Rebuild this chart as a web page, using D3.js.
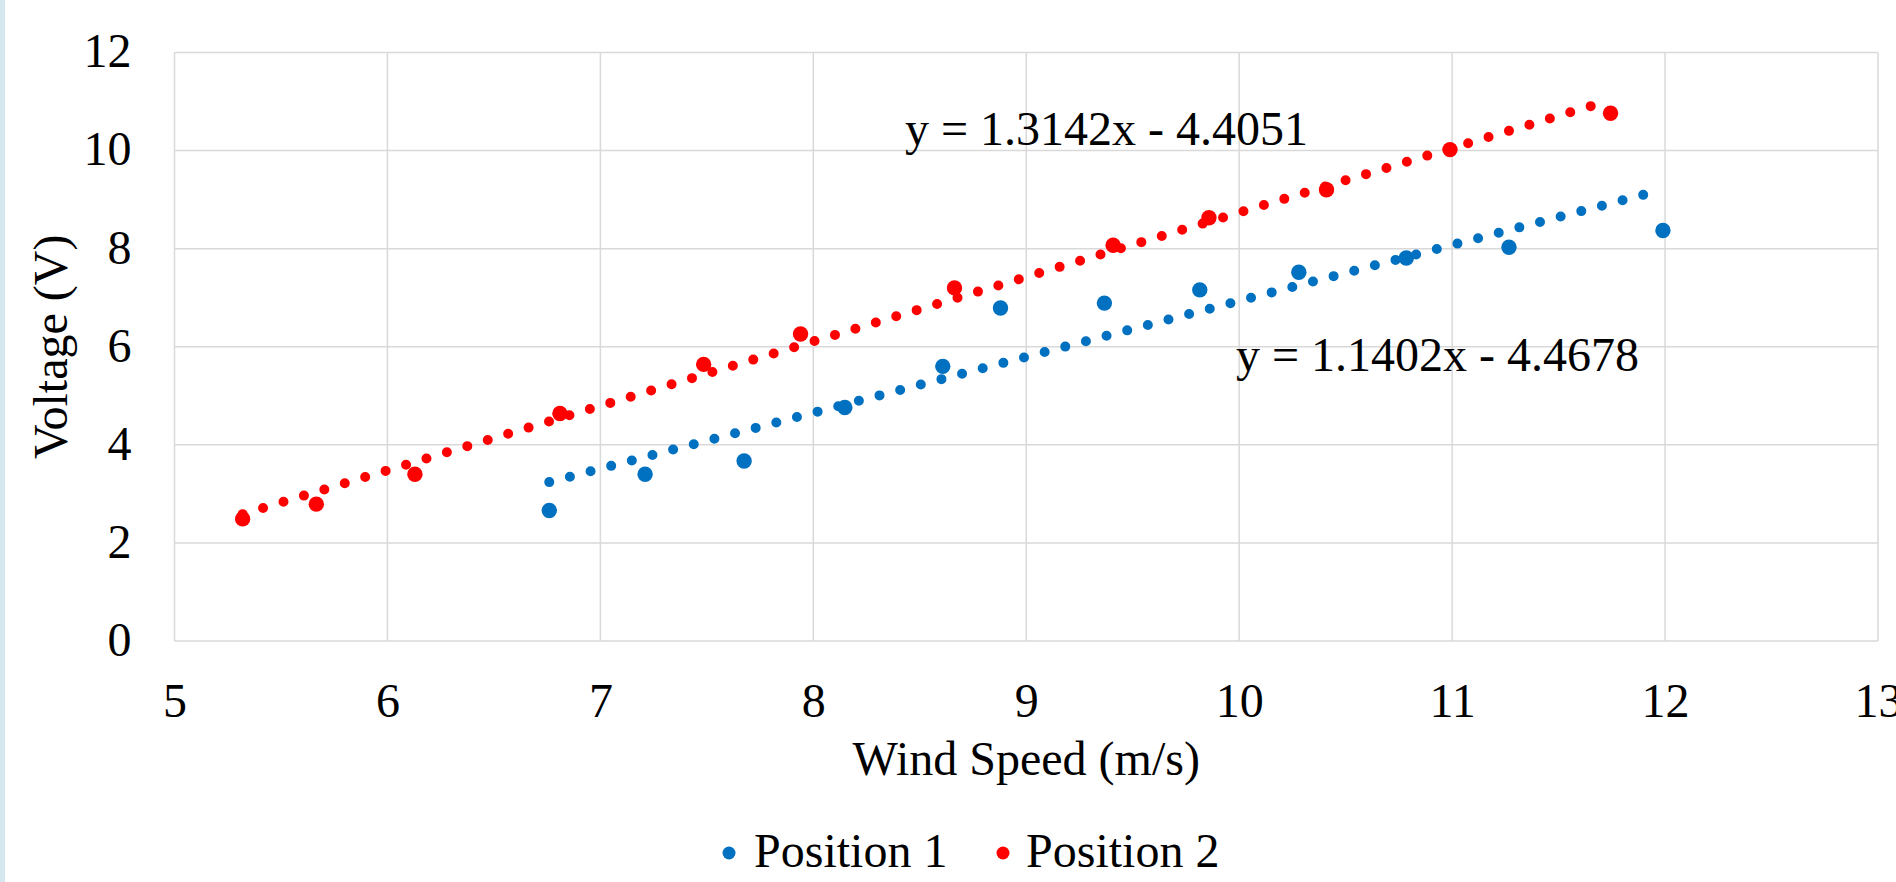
<!DOCTYPE html>
<html>
<head>
<meta charset="utf-8">
<script src="https://cdn.jsdelivr.net/npm/d3@7"></script>
<style>
  html, body { margin: 0; padding: 0; background: #fff; }
  svg { display: block; }
  text { font-family: "Liberation Serif", "Times New Roman", serif; fill: #000; }
</style>
</head>
<body>
<svg id="chart" width="1896" height="882"></svg>
<script>
// Position 1 (blue) readings
var windP1 = [6.76, 7.21, 7.675, 8.148, 8.608, 8.879, 9.367, 9.815, 10.28, 10.785, 11.267, 11.99];
var voltP1 = [2.66, 3.40, 3.67, 4.76, 5.60, 6.79, 6.89, 7.16, 7.52, 7.81, 8.03, 8.37];
// Position 2 (red) readings
var windP2 = [5.32, 5.666, 6.129, 6.81, 7.485, 7.94, 8.663, 9.408, 9.858, 10.41, 10.99, 11.744];
var voltP2 = [2.49, 2.79, 3.40, 4.64, 5.64, 6.26, 7.20, 8.07, 8.63, 9.20, 10.02, 10.76];

// linear trendlines (slope, intercept) as printed on the chart
var trendP1 = [1.1402, -4.4678];
var trendP2 = [1.3142, -4.4051];

var seriesNames = ["Position 1", "Position 2"];
var xTicks = [5, 6, 7, 8, 9, 10, 11, 12, 13];
var yTicks = [0, 2, 4, 6, 8, 10, 12];

var svg = d3.select('#chart');
var width = +svg.attr('width');
var height = +svg.attr('height');

var padding = {t: 52.5, r: 18, b: 241, l: 174.5};
var chartWidth = width - padding.l - padding.r;
var chartHeight = height - padding.t - padding.b;

var colors = ['#0070c0', '#ff0000'];

// thin light blue strip on the left edge
svg.append('rect')
    .attr('x', 0).attr('y', 0)
    .attr('width', 5).attr('height', height)
    .attr('fill', '#d5e8f0');

var chartG = svg.append('g')
    .attr('transform', 'translate(' + [padding.l, padding.t] + ')');

var xScale = d3.scaleLinear().domain([5, 13]).range([0, chartWidth]);
var yScale = d3.scaleLinear().domain([0, 12]).range([chartHeight, 0]);

// gridlines
chartG.append('g').selectAll('line.vgrid')
    .data(xTicks)
    .enter().append('line')
    .attr('class', 'vgrid')
    .attr('x1', function(d) { return xScale(d); })
    .attr('x2', function(d) { return xScale(d); })
    .attr('y1', 0).attr('y2', chartHeight)
    .attr('stroke', '#d9d9d9').attr('stroke-width', 1.5);

chartG.append('g').selectAll('line.hgrid')
    .data(yTicks)
    .enter().append('line')
    .attr('class', 'hgrid')
    .attr('x1', 0).attr('x2', chartWidth)
    .attr('y1', function(d) { return yScale(d); })
    .attr('y2', function(d) { return yScale(d); })
    .attr('stroke', '#d9d9d9').attr('stroke-width', 1.5);

// axes (labels only, Excel-style)
var xAxisG = chartG.append('g')
    .attr('transform', 'translate(' + [0, chartHeight] + ')')
    .call(d3.axisBottom(xScale).tickValues(xTicks).tickSize(0).tickPadding(42));
var yAxisG = chartG.append('g')
    .call(d3.axisLeft(yScale).tickValues(yTicks).tickSize(0).tickPadding(43));

[xAxisG, yAxisG].forEach(function(g) {
    g.select('.domain').remove();
    g.selectAll('text')
        .style('font-family', '"Liberation Serif", "Times New Roman", serif')
        .style('font-size', '48px')
        .attr('fill', '#000');
});
yAxisG.selectAll('text').attr('dy', '0.3em');
xAxisG.selectAll('text').attr('dy', '0.71em');

// trendlines, dotted
function trendLine(xs, coef) {
    var x0 = d3.min(xs), x1 = d3.max(xs);
    return [[x0, coef[0] * x0 + coef[1]], [x1, coef[0] * x1 + coef[1]]];
}
var line = d3.line()
    .x(function(d) { return xScale(d[0]); })
    .y(function(d) { return yScale(d[1]); });

var trends = [trendLine(windP1, trendP1), trendLine(windP2, trendP2)];
chartG.selectAll('.trend')
    .data(trends)
    .enter().append('path')
    .attr('class', 'trend')
    .attr('d', line)
    .attr('fill', 'none')
    .attr('stroke', function(d, i) { return colors[i]; })
    .attr('stroke-width', 10)
    .attr('stroke-linecap', 'round')
    .attr('stroke-dasharray', '0 21.34');

// data markers
var series = [
    windP1.map(function(w, i) { return {x: w, y: voltP1[i]}; }),
    windP2.map(function(w, i) { return {x: w, y: voltP2[i]}; })
];
series.forEach(function(pts, s) {
    chartG.append('g').selectAll('circle')
        .data(pts)
        .enter().append('circle')
        .attr('cx', function(d) { return xScale(d.x); })
        .attr('cy', function(d) { return yScale(d.y); })
        .attr('r', 7.7)
        .attr('fill', colors[s]);
});

// trendline equations
chartG.append('text')
    .attr('x', 905 - padding.l).attr('y', 145 - padding.t)
    .style('font-size', '48px')
    .text('y = 1.3142x - 4.4051');
chartG.append('text')
    .attr('x', 1236 - padding.l).attr('y', 371 - padding.t)
    .style('font-size', '48px')
    .text('y = 1.1402x - 4.4678');

// axis titles
svg.append('text')
    .attr('x', padding.l + chartWidth / 2).attr('y', 775)
    .attr('text-anchor', 'middle')
    .style('font-size', '48px')
    .text('Wind Speed (m/s)');

svg.append('text')
    .attr('transform', 'translate(' + [67, padding.t + chartHeight / 2] + ') rotate(-90)')
    .attr('text-anchor', 'middle')
    .style('font-size', '48px')
    .text('Voltage (V)');

// legend
var legendItems = [{x: 729, tx: 754}, {x: 1003, tx: 1026}];
var legendG = svg.append('g');
legendItems.forEach(function(d, i) {
    legendG.append('circle')
        .attr('cx', d.x).attr('cy', 853)
        .attr('r', 6.5)
        .attr('fill', colors[i]);
    legendG.append('text')
        .attr('x', d.tx).attr('y', 867)
        .style('font-size', '48px')
        .text(seriesNames[i]);
});
</script>
</body>
</html>
